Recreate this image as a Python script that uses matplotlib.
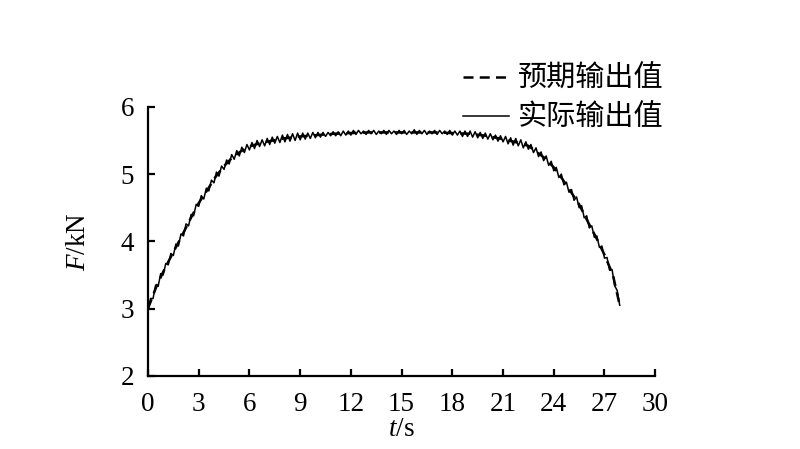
import numpy as np
import matplotlib.pyplot as plt

plt.rcParams['font.family'] = ['Liberation Serif', 'Noto Sans CJK SC']
plt.rcParams['mathtext.fontset'] = 'custom'
plt.rcParams['mathtext.rm'] = 'Liberation Serif'
plt.rcParams['mathtext.it'] = 'Liberation Serif:italic'

# expected output (dashed)
t_exp = [0, 0.5, 1.0, 1.5, 2.0, 2.5, 3.0, 3.5, 4.0, 4.5, 5.0, 5.5, 6.0, 6.5, 7.0,
         8, 9, 10, 11, 12, 13, 14, 15, 16, 17, 18, 19, 20, 21, 22, 22.5, 23,
         23.5, 24, 24.5, 25, 25.5, 26, 26.5, 27, 27.5, 27.9]
f_exp = [3.00, 3.33, 3.60, 3.84, 4.08, 4.33, 4.57, 4.76, 4.96, 5.12, 5.25, 5.34, 5.41,
         5.45, 5.48, 5.53, 5.56, 5.58, 5.60, 5.61, 5.62, 5.62, 5.62, 5.62, 5.62, 5.61,
         5.60, 5.57, 5.52, 5.46, 5.42, 5.33, 5.23, 5.10, 4.93, 4.74, 4.55, 4.30, 4.06,
         3.80, 3.50, 3.05]

# actual output (solid, sampled every 0.15 s)
t_step = 0.15
f_act = [
    2.96, 3.15, 3.15, 3.35, 3.33, 3.52, 3.50, 3.67, 3.65, 3.82,
    3.79, 3.96, 3.93, 4.11, 4.08, 4.26, 4.23, 4.40, 4.38, 4.55,
    4.52, 4.68, 4.63, 4.79, 4.75, 4.91, 4.87, 5.03, 4.97, 5.12,
    5.07, 5.21, 5.15, 5.29, 5.22, 5.35, 5.27, 5.40, 5.32, 5.44,
    5.36, 5.47, 5.38, 5.50, 5.41, 5.51, 5.42, 5.53, 5.44, 5.55,
    5.46, 5.56, 5.47, 5.58, 5.48, 5.59, 5.49, 5.60, 5.50, 5.61,
    5.51, 5.61, 5.52, 5.61, 5.53, 5.62, 5.54, 5.62, 5.55, 5.62,
    5.56, 5.62, 5.57, 5.63, 5.57, 5.63, 5.57, 5.64, 5.58, 5.64,
    5.58, 5.65, 5.59, 5.65, 5.60, 5.64, 5.59, 5.65, 5.60, 5.65,
    5.59, 5.64, 5.60, 5.65, 5.59, 5.65, 5.60, 5.64, 5.59, 5.65,
    5.60, 5.65, 5.59, 5.64, 5.60, 5.66, 5.59, 5.65, 5.60, 5.65,
    5.59, 5.64, 5.60, 5.65, 5.59, 5.65, 5.60, 5.64, 5.59, 5.65,
    5.58, 5.64, 5.58, 5.64, 5.56, 5.64, 5.56, 5.64, 5.55, 5.63,
    5.54, 5.62, 5.53, 5.61, 5.52, 5.60, 5.51, 5.58, 5.49, 5.57,
    5.48, 5.56, 5.45, 5.54, 5.43, 5.53, 5.42, 5.51, 5.39, 5.48,
    5.37, 5.44, 5.32, 5.39, 5.26, 5.33, 5.20, 5.27, 5.13, 5.19,
    5.05, 5.10, 4.95, 5.00, 4.84, 4.88, 4.73, 4.77, 4.61, 4.66,
    4.50, 4.53, 4.35, 4.38, 4.20, 4.23, 4.06, 4.08, 3.91, 3.93,
    3.75, 3.76, 3.57, 3.58, 3.34, 3.27, 3.05,
]
t_act = np.arange(len(f_act)) * t_step

x_ticks = [0, 3, 6, 9, 12, 15, 18, 21, 24, 27, 30]
y_ticks = [2, 3, 4, 5, 6]

fig = plt.figure(figsize=(8, 4.49), dpi=100)
ax = fig.add_axes([0.185, 0.163, 0.634, 0.599])

ax.plot(t_exp, f_exp, color='black', linestyle=(0, (4, 2.5)), linewidth=1.8,
        label='预期输出值')
ax.plot(t_act, f_act, color='black', linewidth=1.1, label='实际输出值')

ax.set_xlim(0, 30)
ax.set_ylim(2, 6)
ax.set_xticks(x_ticks)
ax.set_yticks(y_ticks)
ax.spines['top'].set_visible(False)
ax.spines['right'].set_visible(False)
for s in ('left', 'bottom'):
    ax.spines[s].set_linewidth(1.6)
ax.tick_params(direction='in', length=5, width=1.6, labelsize=19.5)
ax.tick_params(axis='x', pad=12)
ax.tick_params(axis='y', pad=10)

ax.set_xlabel(r'$\mathit{t}$/s', fontsize=19.5, labelpad=0)
ax.set_ylabel(r'$\mathit{F}$/kN', fontsize=19.5, labelpad=21)

leg = fig.legend(loc='upper right', bbox_to_anchor=(0.848, 0.89),
                 frameon=False, prop={'family': ['Noto Sans CJK SC'], 'size': 21},
                 handlelength=1.6, handletextpad=0.3, labelspacing=0.3,
                 borderpad=0)

plt.savefig('out.png', dpi=100)
